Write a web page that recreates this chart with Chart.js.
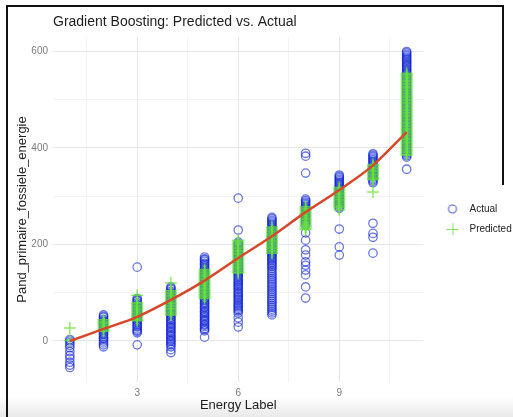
<!DOCTYPE html>
<html>
<head>
<meta charset="utf-8">
<script src="https://cdn.jsdelivr.net/npm/chart.js@4"></script>
<style>
  html, body { margin: 0; padding: 0; width: 513px; height: 417px; overflow: hidden; background: #fff; }
  .shade { position: absolute; left: 0; top: 396px; width: 513px; height: 21px;
           background: linear-gradient(#ffffff, #e9e9e9); }
  .frame { position: absolute; left: 6px; top: 5px; width: 496px; height: 420px;
           border-left: 2px solid #111; border-top: 2px solid #111; }
  .frame-right { position: absolute; left: 502px; top: 5px; width: 2px; height: 180px; background: #111; }
  #wrap { position: absolute; left: 8px; top: 7px; width: 507px; height: 410px; }
</style>
</head>
<body>
<div class="shade"></div>
<div class="frame"></div>
<div class="frame-right"></div>
<div id="wrap"><canvas id="chart"></canvas></div>
<script>
const energyLabels = [1, 2, 3, 4, 5, 6, 7, 8, 9, 10, 11];

// actual values per energy label (dense columns included)
const actualValues = [
    [3, 0, -4, -9, -14, -22, -30, -36, -44, -50, -55],
    [54, 51, 49, 45, 42, 40, 36, 33, 31, 27, 24, 22, 18, 15, 13, 9, 6, 4, 0, -4, -8, -12],
    [153, 88, 85, 83, 79, 76, 74, 70, 67, 65, 61, 58, 56, 52, 49, 47, 43, 40, 38, 34, 31, 29, 25, 22, 20, 17, -8],
    [112, 109, 107, 103, 100, 98, 94, 91, 89, 85, 82, 80, 76, 73, 71, 67, 64, 62, 58, 55, 53, 49, 46, 44, 40, 37, 35, 31, 28, 26, 22, 19, 17, 13, 10, 8, 4, 1, -1, -5, -8, -12, -18, -24],
    [174, 170, 168, 165, 161, 159, 156, 152, 150, 147, 143, 141, 138, 134, 132, 129, 125, 123, 120, 116, 114, 111, 107, 105, 102, 98, 96, 93, 89, 87, 84, 80, 78, 75, 71, 69, 66, 62, 60, 57, 53, 51, 48, 44, 42, 39, 35, 33, 30, 26, 24, 21, 8],
    [296, 230, 205, 202, 199, 196, 193, 190, 187, 184, 181, 177, 174, 171, 168, 165, 162, 159, 156, 152, 149, 146, 143, 140, 137, 134, 131, 127, 124, 121, 118, 115, 112, 109, 106, 102, 99, 96, 93, 90, 87, 84, 80, 77, 74, 71, 68, 65, 62, 58, 48, 39, 29],
    [256, 253, 250, 247, 244, 241, 238, 235, 232, 229, 226, 223, 220, 217, 214, 211, 208, 205, 202, 199, 196, 193, 190, 187, 184, 181, 178, 175, 172, 169, 166, 163, 160, 157, 154, 150, 146, 142, 138, 134, 130, 126, 122, 118, 114, 110, 106, 102, 98, 94, 90, 86, 82, 78, 74, 70, 66, 62, 58, 54],
    [389, 383, 348, 294, 291, 288, 285, 282, 279, 276, 273, 270, 267, 264, 261, 258, 255, 252, 249, 246, 243, 240, 224, 209, 189, 178, 164, 157, 147, 137, 112, 89],
    [344, 341, 338, 335, 332, 329, 326, 323, 320, 317, 314, 311, 308, 305, 302, 299, 296, 293, 290, 287, 284, 281, 278, 275, 232, 195, 178],
    [388, 385, 382, 379, 376, 373, 370, 367, 364, 361, 358, 355, 352, 349, 346, 343, 340, 337, 334, 331, 328, 244, 223, 215, 182],
    [600, 597, 594, 591, 588, 585, 582, 579, 576, 573, 570, 567, 564, 561, 558, 555, 552, 549, 546, 543, 540, 537, 534, 531, 528, 525, 522, 519, 516, 513, 510, 507, 504, 501, 498, 495, 492, 489, 486, 483, 480, 477, 474, 471, 468, 465, 462, 459, 456, 453, 450, 447, 444, 441, 438, 435, 432, 429, 426, 423, 420, 417, 414, 411, 408, 405, 402, 399, 396, 393, 390, 387, 384, 381, 356]
];

// predicted values per energy label
const predictedValues = [
    [27, 1],
    [44, 41, 38, 35, 32, 29, 26, 23, 20],
    [95, 80, 77, 74, 71, 68, 65, 62, 59, 56, 53, 50, 47, 44, 42],
    [120, 104, 101, 98, 95, 92, 89, 86, 83, 80, 77, 74, 71, 68, 65, 62, 59, 56, 54],
    [148, 145, 142, 139, 136, 133, 130, 127, 124, 121, 118, 115, 112, 109, 106, 103, 100, 97, 94, 91, 88],
    [209, 206, 203, 200, 197, 194, 191, 188, 185, 182, 179, 176, 173, 170, 167, 164, 161, 158, 155, 152, 149, 146, 143, 141],
    [236, 233, 230, 227, 224, 221, 218, 215, 212, 209, 206, 203, 200, 197, 194, 191, 188, 185, 182],
    [278, 275, 272, 269, 266, 263, 260, 257, 254, 251, 248, 245, 242, 239, 236, 233, 231],
    [318, 315, 312, 309, 306, 303, 300, 297, 294, 291, 288, 285, 282, 279, 276, 272],
    [366, 363, 360, 357, 354, 351, 348, 345, 342, 339, 336, 334, 309],
    [555, 552, 549, 546, 543, 540, 537, 534, 531, 528, 525, 522, 519, 516, 513, 510, 507, 504, 501, 498, 495, 492, 489, 486, 483, 480, 477, 474, 471, 468, 465, 462, 459, 456, 453, 450, 447, 444, 441, 438, 435, 432, 429, 426, 423, 420, 417, 414, 411, 408, 405, 402, 399, 396, 393, 390, 387, 385]
];

// smooth trend line through the predictions
const fittedValues = [0, 25, 50, 85, 125, 172, 217, 267, 313, 364, 433];

const xMajorTicks = [3, 6, 9];
const xGridTicks  = [1.5, 3, 4.5, 6, 7.5, 9, 10.5];
const yMajorTicks = [0, 200, 400, 600];
const yGridTicks  = [0, 100, 200, 300, 400, 500, 600];

const FONT       = '"Liberation Sans", Arial, Helvetica, sans-serif';
const BLUE       = 'rgba(15, 35, 215, 0.62)';
const GREEN      = 'rgba(100, 230, 50, 0.75)';
const RED        = '#d9472b';
const GRID_MAJOR = '#e6e6e6';
const GRID_MINOR = '#f2f2f2';


function toPoints(groups) {
    return groups.flatMap((vals, i) => vals.map(v => ({ x: energyLabels[i], y: v })));
}

// little canvases used as legend symbols
function legendSymbol(kind) {
    const c = document.createElement('canvas');
    c.width = 16; c.height = 16;
    const g = c.getContext('2d');
    if (kind === 'circle') {
        g.strokeStyle = 'rgba(40, 50, 200, 0.8)';
        g.lineWidth = 1.1;
        g.beginPath();
        g.arc(8, 8, 4, 0, Math.PI * 2);
        g.stroke();
    } else {
        g.strokeStyle = 'rgba(110, 225, 80, 0.9)';
        g.lineWidth = 1;
        g.beginPath();
        g.moveTo(2, 8.5); g.lineTo(14, 8.5);
        g.moveTo(8.5, 2); g.lineTo(8.5, 14);
        g.stroke();
    }
    return c;
}

const circleIcon = legendSymbol('circle');
const plusIcon   = legendSymbol('plus');

new Chart(document.getElementById('chart'), {
    type: 'scatter',
    data: {
        datasets: [
            {
                label: 'Actual',
                data: toPoints(actualValues),
                pointStyle: 'circle',
                pointRadius: 4.2,
                borderWidth: 1.3,
                borderColor: BLUE,
                backgroundColor: 'rgba(0,0,0,0)',
                order: 3
            },
            {
                label: 'Predicted',
                data: toPoints(predictedValues),
                pointStyle: 'cross',
                pointRadius: 6,
                borderWidth: 1.5,
                borderColor: GREEN,
                backgroundColor: GREEN,
                order: 2
            },
            {
                label: 'fit',
                type: 'line',
                data: fittedValues.map((v, i) => ({ x: energyLabels[i], y: v })),
                borderColor: RED,
                borderWidth: 2.5,
                pointRadius: 0,
                cubicInterpolationMode: 'monotone',
                fill: false,
                order: 1
            }
        ]
    },
    options: {
        responsive: true,
        maintainAspectRatio: false,
        animation: false,
        events: [],
        layout: { padding: 0 },
        plugins: {
            tooltip: { enabled: false },
            title: {
                display: true,
                text: 'Gradient Boosting: Predicted vs. Actual',
                align: 'start',
                fullSize: false,
                color: '#1e1e1e',
                font: { family: FONT, size: 14, weight: 'normal' },
                padding: { top: 6.6, bottom: 6.6 }
            },
            legend: {
                position: 'right',
                align: 'center',
                title: { display: true, text: '', padding: 0, font: { size: 14, lineHeight: 1 } },
                labels: {
                    usePointStyle: true,
                    pointStyleWidth: 24,
                    padding: 10,
                    color: '#222',
                    font: { family: FONT, size: 10 },
                    generateLabels: () => [
                        { text: 'Actual', pointStyle: circleIcon, fontColor: '#222', lineWidth: 0, datasetIndex: 0 },
                        { text: 'Predicted', pointStyle: plusIcon, fontColor: '#222', lineWidth: 0, datasetIndex: 1 }
                    ]
                }
            }
        },
        scales: {
            x: {
                type: 'linear',
                min: 0.5,
                max: 11.5,
                afterBuildTicks: s => { s.ticks = xGridTicks.map(v => ({ value: v })); },
                afterFit: s => { s.height = 35; },
                border: { display: false },
                grid: {
                    drawTicks: false,
                    lineWidth: 1,
                    color: c => xMajorTicks.includes(c.tick && c.tick.value) ? GRID_MAJOR : GRID_MINOR
                },
                ticks: {
                    padding: 5,
                    color: '#7a7a7a',
                    font: { family: FONT, size: 10 },
                    maxRotation: 0,
                    autoSkip: false,
                    callback: v => xMajorTicks.includes(v) ? String(v) : ''
                },
                title: {
                    display: true,
                    text: 'Energy Label',
                    color: '#1e1e1e',
                    font: { family: FONT, size: 13 },
                    padding: { top: 0, bottom: 4.2 }
                }
            },
            y: {
                type: 'linear',
                min: -85,
                max: 630,
                afterBuildTicks: s => { s.ticks = yGridTicks.map(v => ({ value: v })); },
                afterFit: s => { s.width = 45; },
                border: { display: false },
                grid: {
                    drawTicks: false,
                    lineWidth: 1,
                    color: c => yMajorTicks.includes(c.tick && c.tick.value) ? GRID_MAJOR : GRID_MINOR
                },
                ticks: {
                    padding: 5,
                    color: '#7a7a7a',
                    font: { family: FONT, size: 10 },
                    autoSkip: false,
                    callback: v => yMajorTicks.includes(v) ? String(v) : ''
                },
                title: {
                    display: true,
                    text: 'Pand_primaire_fossiele_energie',
                    color: '#1e1e1e',
                    font: { family: FONT, size: 13 },
                    padding: { top: 6.2, bottom: 0 }
                }
            },
            // empty right-hand axis, only keeps the legend off the panel
            spacer: {
                type: 'linear',
                position: 'right',
                display: true,
                afterFit: s => { s.width = 7; },
                border: { display: false },
                grid: { display: false, drawTicks: false },
                ticks: { display: false }
            }
        }
    }
});
</script>
</body>
</html>
